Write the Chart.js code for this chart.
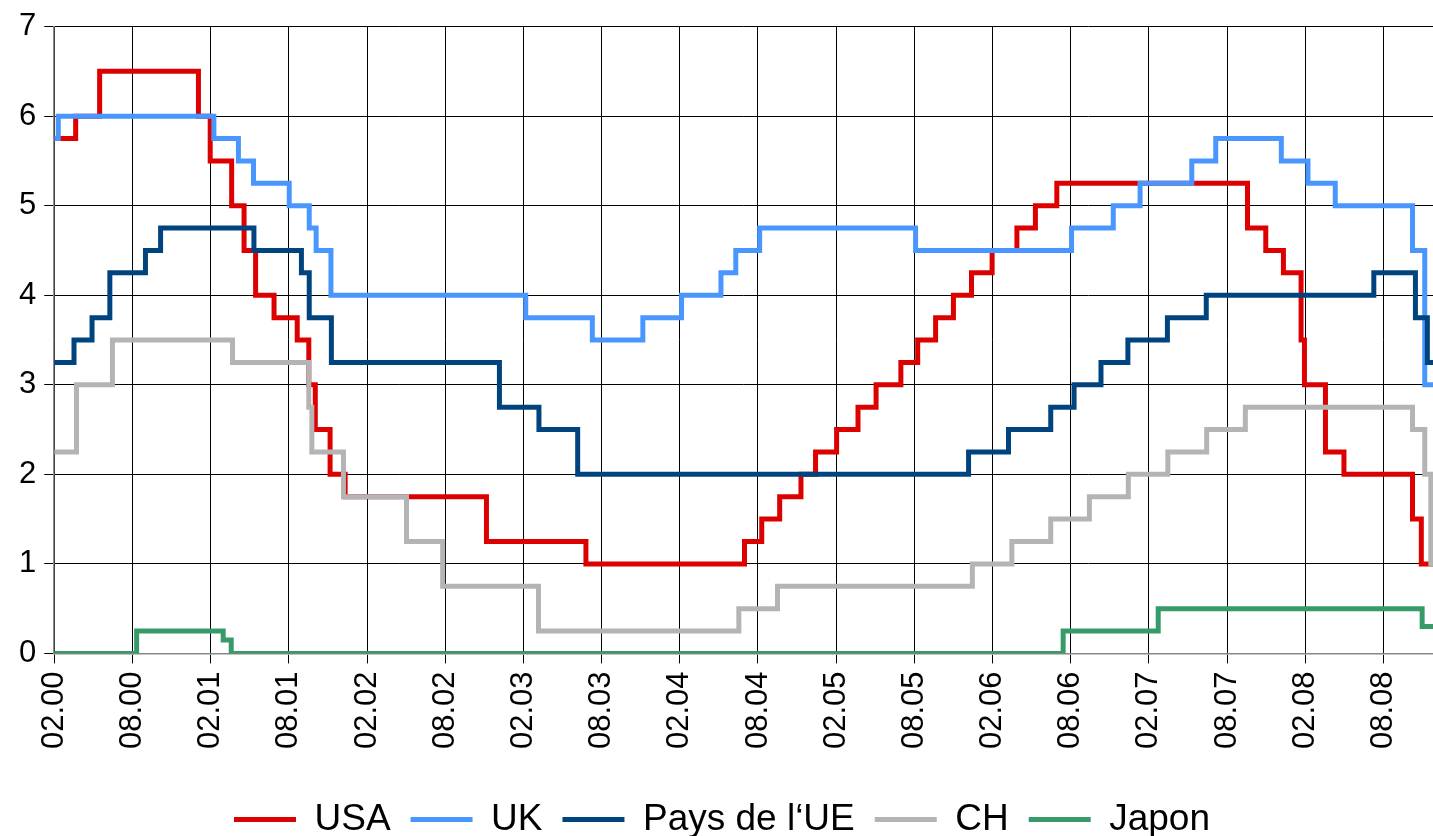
<!DOCTYPE html>
<html lang="fr">
<head>
    <meta charset="UTF-8">
    <title>Taux directeurs</title>
    <script src="https://cdn.jsdelivr.net/npm/chart.js"></script>
    <style>
        body {
            margin: 0;
            background-color: white;
            font-family: "Liberation Sans", Arial, sans-serif;
        }
        .chart-box {
            width: 1433px;
            height: 836px;
            position: relative;
        }
    </style>
</head>
<body>
    <div class="chart-box">
        <canvas id="rateChart"></canvas>
    </div>

    <script>
        // rate changes: date of the change + new rate (%)
        const usaDates = ['2000-02-01', '2000-03-21', '2000-05-16', '2001-01-03', '2001-01-31', '2001-03-20',
            '2001-04-18', '2001-05-15', '2001-06-27', '2001-08-21', '2001-09-17', '2001-10-02', '2001-11-06',
            '2001-12-11', '2002-11-06', '2003-06-25', '2004-06-30', '2004-08-10', '2004-09-21', '2004-11-10',
            '2004-12-14', '2005-02-02', '2005-03-22', '2005-05-03', '2005-06-30', '2005-08-09', '2005-09-20',
            '2005-11-01', '2005-12-13', '2006-01-31', '2006-03-28', '2006-05-10', '2006-06-29', '2007-09-18',
            '2007-10-31', '2007-12-11', '2008-01-22', '2008-01-30', '2008-03-18', '2008-04-30', '2008-10-08',
            '2008-10-29'];
        const usaRates = [5.75, 6, 6.5, 6, 5.5, 5, 4.5, 4, 3.75, 3.5, 3, 2.5, 2, 1.75, 1.25, 1, 1.25, 1.5, 1.75, 2,
            2.25, 2.5, 2.75, 3, 3.25, 3.5, 3.75, 4, 4.25, 4.5, 4.75, 5, 5.25, 4.75, 4.5, 4.25, 3.5, 3, 2.25, 2, 1.5, 1];

        const ukDates = ['2000-02-01', '2000-02-10', '2001-02-08', '2001-04-05', '2001-05-10', '2001-08-02',
            '2001-09-18', '2001-10-04', '2001-11-08', '2003-02-06', '2003-07-10', '2003-11-06', '2004-02-05',
            '2004-05-06', '2004-06-10', '2004-08-05', '2005-08-04', '2006-08-03', '2006-11-09', '2007-01-11',
            '2007-05-10', '2007-07-05', '2007-12-06', '2008-02-07', '2008-04-10', '2008-10-08', '2008-11-06'];
        const ukRates = [5.75, 6, 5.75, 5.5, 5.25, 5, 4.75, 4.5, 4, 3.75, 3.5, 3.75, 4, 4.25, 4.5, 4.75, 4.5, 4.75,
            5, 5.25, 5.5, 5.75, 5.5, 5.25, 5, 4.5, 3];

        const euDates = ['2000-02-01', '2000-03-17', '2000-04-28', '2000-06-09', '2000-09-01', '2000-10-06',
            '2001-05-11', '2001-08-31', '2001-09-18', '2001-11-09', '2002-12-06', '2003-03-07', '2003-06-06',
            '2005-12-06', '2006-03-08', '2006-06-15', '2006-08-09', '2006-10-11', '2006-12-13', '2007-03-14',
            '2007-06-13', '2008-07-09', '2008-10-15', '2008-11-12'];
        const euRates = [3.25, 3.5, 3.75, 4.25, 4.5, 4.75, 4.5, 4.25, 3.75, 3.25, 2.75, 2.5, 2, 2.25, 2.5, 2.75,
            3, 3.25, 3.5, 3.75, 4, 4.25, 3.75, 3.25];

        const chDates = ['2000-02-01', '2000-03-23', '2000-06-15', '2001-03-22', '2001-09-17', '2001-09-24',
            '2001-12-07', '2002-05-02', '2002-07-26', '2003-03-06', '2004-06-17', '2004-09-16', '2005-12-15',
            '2006-03-16', '2006-06-15', '2006-09-14', '2006-12-14', '2007-03-15', '2007-06-14', '2007-09-13',
            '2008-10-08', '2008-11-06', '2008-11-20'];
        const chRates = [2.25, 3, 3.5, 3.25, 2.75, 2.25, 1.75, 1.25, 0.75, 0.25, 0.5, 0.75, 1, 1.25, 1.5, 1.75, 2,
            2.25, 2.5, 2.75, 2.5, 2, 1];

        const japDates = ['2000-02-01', '2000-08-11', '2001-02-28', '2001-03-19', '2006-07-14', '2007-02-21',
            '2008-10-31'];
        const japRates = [0, 0.25, 0.15, 0, 0.25, 0.5, 0.3];

        const seriesNames = ['USA', 'UK', 'Pays de l\u2018UE', 'CH', 'Japon'];
        const seriesColors = ['#dd0000', '#4a96ff', '#00447f', '#b4b4b4', '#379b69'];

        const dataEnd = '2008-12-01';
        const axisEnd = '2008-11-25';

        // months since 1 Feb 2000
        function monthPos(s) {
            const [y, m, d] = s.split('-').map(Number);
            const days = new Date(y, m, 0).getDate();
            return (y - 2000) * 12 + (m - 2) + (d - 1) / days;
        }

        function tickLabel(v) {
            const month = ((1 + v) % 12) + 1;
            const year = 2000 + Math.floor((1 + v) / 12);
            return String(month).padStart(2, '0') + '.' + String(year % 100).padStart(2, '0');
        }

        function steps(dates, rates) {
            const pts = dates.map((d, i) => ({ x: monthPos(d), y: rates[i] }));
            pts.push({ x: monthPos(dataEnd), y: rates[rates.length - 1] });
            return pts;
        }

        const allDates = [usaDates, ukDates, euDates, chDates, japDates];
        const allRates = [usaRates, ukRates, euRates, chRates, japRates];

        const datasets = seriesNames.map((name, i) => ({
            label: name,
            data: steps(allDates[i], allRates[i]),
            borderColor: seriesColors[i],
            backgroundColor: seriesColors[i],
            borderWidth: 5,
            pointRadius: 0,
            stepped: true,
            order: seriesNames.length - i
        }));

        const fontFamily = '"Liberation Sans", Arial, sans-serif';

        new Chart(document.getElementById('rateChart'), {
            type: 'line',
            data: { datasets: datasets },
            options: {
                responsive: true,
                maintainAspectRatio: false,
                animation: false,
                layout: { padding: { top: 5, right: 0, left: 11, bottom: -12 } },
                plugins: {
                    tooltip: { enabled: false },
                    legend: {
                        position: 'bottom',
                        labels: {
                            usePointStyle: true,
                            pointStyle: 'line',
                            pointStyleWidth: 62,
                            padding: 20,
                            color: '#000',
                            font: { family: fontFamily, size: 37 },
                            sort: (a, b) => a.datasetIndex - b.datasetIndex
                        }
                    }
                },
                scales: {
                    x: {
                        type: 'linear',
                        min: 0,
                        max: monthPos(axisEnd),
                        afterBuildTicks: axis => {
                            axis.ticks = axis.ticks.filter(t => t.value % 6 === 0);
                        },
                        afterFit: axis => {
                            axis.height += 24;
                        },
                        grid: { color: '#000', lineWidth: 1, tickLength: 10, tickColor: '#000' },
                        border: { color: '#888', width: 1.5 },
                        ticks: {
                            stepSize: 6,
                            minRotation: 90,
                            maxRotation: 90,
                            padding: 8,
                            color: '#000',
                            font: { family: fontFamily, size: 31 },
                            callback: v => tickLabel(v)
                        }
                    },
                    y: {
                        min: 0,
                        max: 7,
                        grid: { color: '#000', lineWidth: 1, tickLength: 10, tickColor: '#000' },
                        border: { color: '#888', width: 1.5 },
                        ticks: {
                            stepSize: 1,
                            padding: 8,
                            color: '#000',
                            font: { family: fontFamily, size: 31 }
                        }
                    }
                }
            }
        });
    </script>
</body>
</html>
